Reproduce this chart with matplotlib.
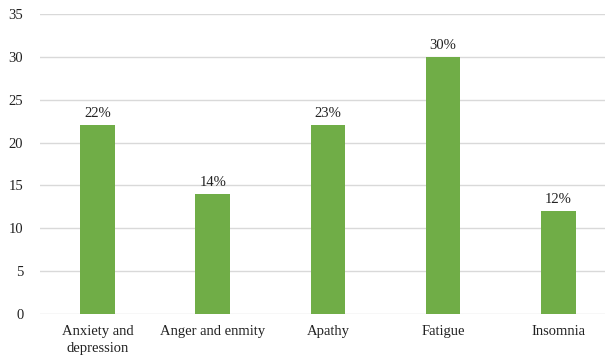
import numpy as np
import matplotlib.pyplot as plt

categories = ["Anxiety and\ndepression", "Anger and enmity", "Apathy", "Fatigue", "Insomnia"]
values = [22, 14, 22, 30, 12]
labels = ["22%", "14%", "23%", "30%", "12%"]

plt.rcParams['font.family'] = ['Liberation Serif', 'DejaVu Serif']

fig = plt.figure(figsize=(6.05, 3.6), dpi=100)
# axes run a little past the right edge, as in the cropped original
ax = fig.add_axes([0.066, 0.128, 0.952, 0.833])

x = np.arange(len(categories))
ax.bar(x, values, width=0.30, color='#70AD47', zorder=3)
for xi, v, lab in zip(x, values, labels):
    ax.text(xi, v + 0.6, lab, ha='center', va='bottom', fontsize=10.5, color='#222222')

ax.set_xlim(-0.5, len(categories) - 0.5)
ax.set_ylim(0, 35)
ax.set_yticks(np.arange(0, 36, 5))
ax.set_xticks(x)
ax.set_xticklabels(categories, fontsize=10.5, color='#222222', linespacing=1.35)
ax.tick_params(axis='y', labelsize=10.5, colors='#222222', length=0, pad=12)
ax.tick_params(axis='x', length=0, pad=8)
ax.grid(axis='y', color='#D9D9D9', linewidth=1, zorder=0)
for s in ax.spines.values():
    s.set_visible(False)

fig.savefig('out.png', dpi=100)
